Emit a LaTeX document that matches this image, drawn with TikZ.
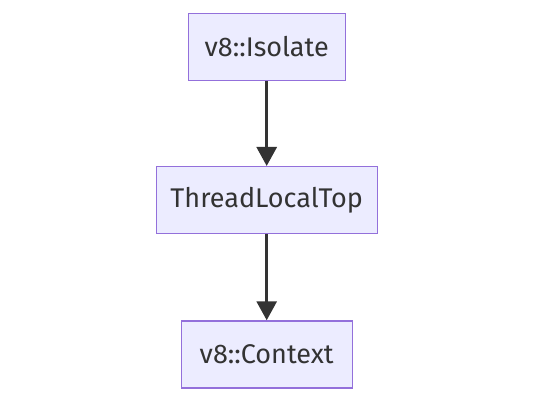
\documentclass[tikz,border=0pt]{standalone}
\usepackage{fontspec}
\setmainfont{Fira Sans}
\usepackage{tikz}
\usetikzlibrary{arrows.meta,positioning,calc}
\definecolor{boxfill}{HTML}{ECECFF}
\definecolor{boxline}{HTML}{9370DB}
\definecolor{edgecol}{HTML}{333333}
\tikzstyle{cls}=[draw=boxline,fill=boxfill,line width=1.3bp,minimum height=67bp,inner sep=0pt,text=edgecol,font=\fontsize{27bp}{30bp}\selectfont]
\tikzstyle{edge}=[draw=edgecol,line width=3bp,-{Triangle[width=20bp,length=19bp]}]

\begin{document}
\begin{tikzpicture}[x=1bp,y=-1bp]
\useasboundingbox (0,0) rectangle (534,400);
\node [cls,minimum width=157bp] (iso) at (266.7,46.8) {v8::Isolate};
\node [cls,minimum width=221bp,below=85bp of iso] (tlt) {ThreadLocalTop};
\node [cls,minimum width=171bp,below=86bp of tlt] (ctx) {v8::Context};
\draw [edge] (iso) -- (tlt);
\draw [edge] (tlt) -- (ctx);
\end{tikzpicture}
\end{document}
